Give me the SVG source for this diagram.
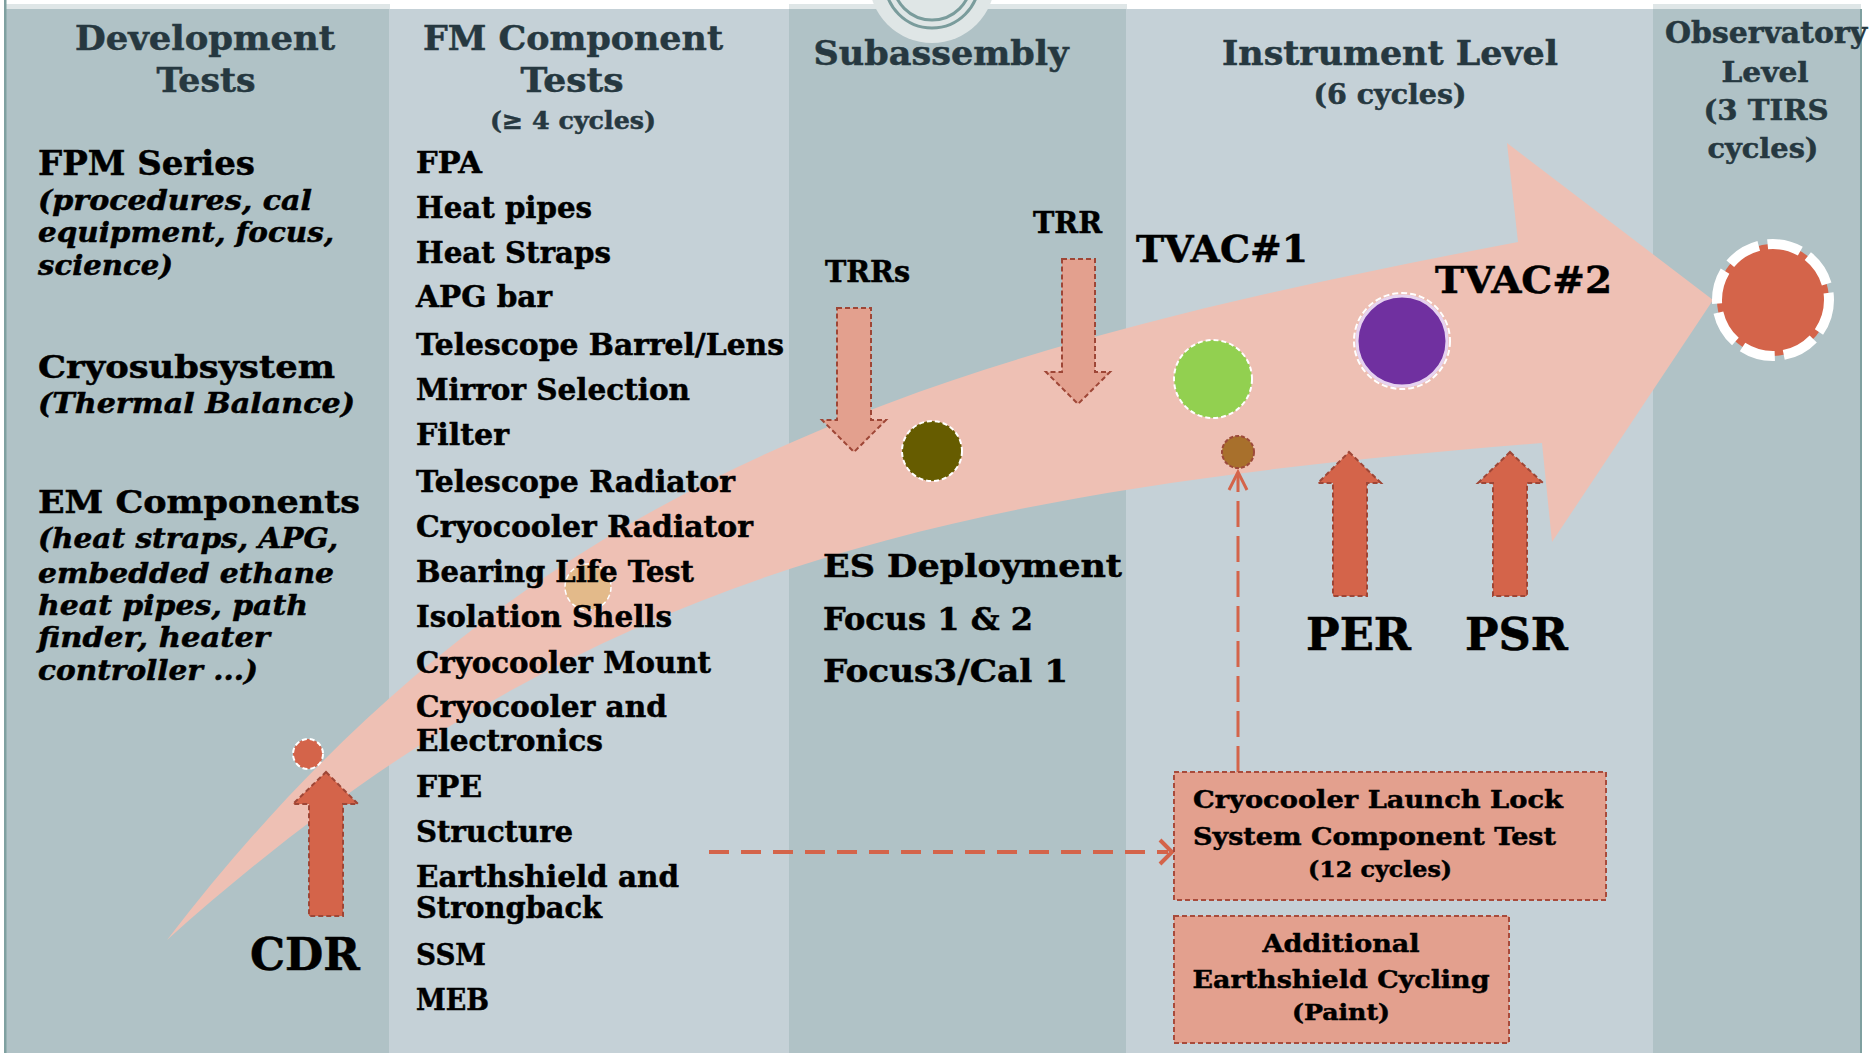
<svg xmlns="http://www.w3.org/2000/svg" width="1869" height="1053" viewBox="0 0 1869 1053">
<style>
.hd{font-family:"DejaVu Serif","Liberation Serif",serif;font-weight:bold;fill:#263840;stroke:#263840;stroke-width:0.5}
.t{font-family:"DejaVu Serif","Liberation Serif",serif;font-weight:bold;fill:#000;stroke:#000;stroke-width:0.5}
.i{font-style:italic}
.darkcol{fill:#b0c2c6}
.lightcol{fill:#c5d1d7}
.arr{stroke:#9e4636;stroke-width:2;stroke-dasharray:5 3}
.box{fill:#e3a08e;stroke:#a84b3b;stroke-width:2;stroke-dasharray:5 3}
.conn{fill:none;stroke:#d4644a}
</style>
<rect width="1869" height="1053" fill="#ffffff"/>
<g id="columns">
<rect x="6" y="4" width="384" height="5" fill="#dfe6e7"/>
<rect x="789" y="4" width="338" height="5" fill="#dfe6e7"/>
<rect x="1653" y="4" width="208" height="5" fill="#dfe6e7"/>
<rect class="darkcol" x="6" y="9" width="384" height="1044"/>
<rect class="lightcol" x="389" y="9" width="401" height="1044"/>
<rect class="darkcol" x="789" y="9" width="338" height="1044"/>
<rect class="lightcol" x="1126" y="9" width="528" height="1044"/>
<rect class="darkcol" x="1653" y="9" width="208" height="1044"/>
<rect x="4" y="0" width="2.5" height="1053" fill="#7fa0a0"/>
<rect x="1860" y="9" width="2" height="1044" fill="#7fa0a0"/>
</g>
<g id="top-decoration">
<circle cx="932" cy="-20" r="63" fill="#dfe6e6"/>
<circle cx="932" cy="-19" r="47" fill="none" stroke="#7a9c9c" stroke-width="3"/>
<circle cx="932" cy="-19" r="39" fill="none" stroke="#7a9c9c" stroke-width="3"/>
</g>
<g id="swoosh">
<path d="M167,940 C520,480 918,356 1518,242 L1507,143 L1713,300 L1552,542 L1542,443 C942,491 580,570 167,940 Z" fill="#eec0b4"/>
</g>
<g id="headers">
<text class="hd" x="205" y="50" font-size="33" text-anchor="middle" textLength="260" lengthAdjust="spacingAndGlyphs">Development</text>
<text class="hd" x="206" y="92" font-size="33" text-anchor="middle" textLength="99" lengthAdjust="spacingAndGlyphs">Tests</text>
<text class="hd" x="573" y="50" font-size="33" text-anchor="middle" textLength="300" lengthAdjust="spacingAndGlyphs">FM Component</text>
<text class="hd" x="572" y="92" font-size="33" text-anchor="middle" textLength="103" lengthAdjust="spacingAndGlyphs">Tests</text>
<text class="hd" x="573" y="129" font-size="25" text-anchor="middle" textLength="166" lengthAdjust="spacingAndGlyphs">(≥ 4 cycles)</text>
<text class="hd" x="941" y="65" font-size="34" text-anchor="middle" textLength="255" lengthAdjust="spacingAndGlyphs">Subassembly</text>
<text class="hd" x="1390" y="65" font-size="34" text-anchor="middle" textLength="336" lengthAdjust="spacingAndGlyphs">Instrument Level</text>
<text class="hd" x="1390" y="104" font-size="27" text-anchor="middle" textLength="153" lengthAdjust="spacingAndGlyphs">(6 cycles)</text>
<text class="hd" x="1766" y="43" font-size="29" text-anchor="middle" textLength="202" lengthAdjust="spacingAndGlyphs">Observatory</text>
<text class="hd" x="1765" y="82" font-size="28" text-anchor="middle" textLength="87" lengthAdjust="spacingAndGlyphs">Level</text>
<text class="hd" x="1766" y="120" font-size="28" text-anchor="middle" textLength="125" lengthAdjust="spacingAndGlyphs">(3 TIRS</text>
<text class="hd" x="1763" y="158" font-size="28" text-anchor="middle" textLength="111" lengthAdjust="spacingAndGlyphs">cycles)</text>
</g>
<g id="dev-tests">
<text class="t" x="38" y="175" font-size="33" textLength="217" lengthAdjust="spacingAndGlyphs">FPM Series</text>
<text class="t i" x="38" y="210" font-size="27" textLength="274" lengthAdjust="spacingAndGlyphs">(procedures, cal</text>
<text class="t i" x="38" y="242" font-size="27" textLength="296" lengthAdjust="spacingAndGlyphs">equipment, focus,</text>
<text class="t i" x="38" y="275" font-size="27" textLength="135" lengthAdjust="spacingAndGlyphs">science)</text>
<text class="t" x="38" y="378" font-size="32" textLength="297" lengthAdjust="spacingAndGlyphs">Cryosubsystem</text>
<text class="t i" x="38" y="413" font-size="28" textLength="317" lengthAdjust="spacingAndGlyphs">(Thermal Balance)</text>
<text class="t" x="38" y="513" font-size="32" textLength="322" lengthAdjust="spacingAndGlyphs">EM Components</text>
<text class="t i" x="38" y="548" font-size="27" textLength="300" lengthAdjust="spacingAndGlyphs">(heat straps, APG,</text>
<text class="t i" x="38" y="583" font-size="27" textLength="296" lengthAdjust="spacingAndGlyphs">embedded ethane</text>
<text class="t i" x="38" y="615" font-size="27" textLength="270" lengthAdjust="spacingAndGlyphs">heat pipes, path</text>
<text class="t i" x="38" y="647" font-size="27" textLength="232" lengthAdjust="spacingAndGlyphs">finder, heater</text>
<text class="t i" x="38" y="680" font-size="27" textLength="220" lengthAdjust="spacingAndGlyphs">controller ...)</text>
</g>
<g id="bearing-dot">
<circle cx="588" cy="587" r="23" fill="#e3ba8a" stroke="#ffffff" stroke-width="1.5" stroke-dasharray="5 3"/>
</g>
<g id="fm-components">
<text class="t" x="416" y="173" font-size="29" textLength="66" lengthAdjust="spacingAndGlyphs">FPA</text>
<text class="t" x="416" y="218" font-size="29" textLength="176" lengthAdjust="spacingAndGlyphs">Heat pipes</text>
<text class="t" x="416" y="263" font-size="29" textLength="195" lengthAdjust="spacingAndGlyphs">Heat Straps</text>
<text class="t" x="416" y="307" font-size="29" textLength="136" lengthAdjust="spacingAndGlyphs">APG bar</text>
<text class="t" x="416" y="355" font-size="29" textLength="368" lengthAdjust="spacingAndGlyphs">Telescope Barrel/Lens</text>
<text class="t" x="416" y="400" font-size="29" textLength="274" lengthAdjust="spacingAndGlyphs">Mirror  Selection</text>
<text class="t" x="416" y="445" font-size="29" textLength="93" lengthAdjust="spacingAndGlyphs">Filter</text>
<text class="t" x="416" y="492" font-size="29" textLength="319" lengthAdjust="spacingAndGlyphs">Telescope Radiator</text>
<text class="t" x="416" y="537" font-size="29" textLength="337" lengthAdjust="spacingAndGlyphs">Cryocooler Radiator</text>
<text class="t" x="416" y="582" font-size="29" textLength="278" lengthAdjust="spacingAndGlyphs">Bearing Life Test</text>
<text class="t" x="416" y="627" font-size="29" textLength="256" lengthAdjust="spacingAndGlyphs">Isolation Shells</text>
<text class="t" x="416" y="673" font-size="29" textLength="295" lengthAdjust="spacingAndGlyphs">Cryocooler Mount</text>
<text class="t" x="416" y="717" font-size="29" textLength="251" lengthAdjust="spacingAndGlyphs">Cryocooler and</text>
<text class="t" x="416" y="751" font-size="29" textLength="187" lengthAdjust="spacingAndGlyphs">Electronics</text>
<text class="t" x="416" y="797" font-size="29" textLength="66" lengthAdjust="spacingAndGlyphs">FPE</text>
<text class="t" x="416" y="842" font-size="29" textLength="157" lengthAdjust="spacingAndGlyphs">Structure</text>
<text class="t" x="416" y="887" font-size="29" textLength="263" lengthAdjust="spacingAndGlyphs">Earthshield and</text>
<text class="t" x="416" y="918" font-size="29" textLength="186" lengthAdjust="spacingAndGlyphs">Strongback</text>
<text class="t" x="416" y="965" font-size="29" textLength="70" lengthAdjust="spacingAndGlyphs">SSM</text>
<text class="t" x="416" y="1010" font-size="29" textLength="73" lengthAdjust="spacingAndGlyphs">MEB</text>
</g>
<g id="connectors">
<line class="conn" x1="709" y1="852" x2="1168" y2="852" stroke-width="4" stroke-dasharray="20 12"/>
<polyline class="conn" points="1160,840 1172,852 1160,864" stroke-width="4"/>
<line class="conn" x1="1238" y1="772" x2="1238" y2="474" stroke-width="3" stroke-dasharray="26 9"/>
<polyline class="conn" points="1229,490 1238,472 1247,490" stroke-width="3"/>
</g>
<g id="cdr">
<circle cx="308" cy="754" r="15" fill="#d4644a" stroke="#ffffff" stroke-width="2" stroke-dasharray="5 3"/>
<path class="arr" d="M326,772 L358,804 L343,804 L343,916 L309,916 L309,804 L293,804 Z" fill="#d4644a"/>
<text class="t" x="305" y="970" font-size="45" text-anchor="middle" textLength="110" lengthAdjust="spacingAndGlyphs">CDR</text>
</g>
<g id="trrs">
<text class="t" x="825" y="282" font-size="29" textLength="85" lengthAdjust="spacingAndGlyphs">TRRs</text>
<path class="arr" d="M837,308 L871,308 L871,420 L886,420 L854,452 L822,420 L837,420 Z" fill="#e3a08e"/>
<circle cx="932" cy="451" r="30" fill="#665c00" stroke="#ffffff" stroke-width="2" stroke-dasharray="5 3"/>
</g>
<g id="trr">
<text class="t" x="1033" y="233" font-size="29" textLength="69" lengthAdjust="spacingAndGlyphs">TRR</text>
<path class="arr" d="M1062,259 L1095,259 L1095,372 L1110,372 L1078,404 L1046,372 L1062,372 Z" fill="#e3a08e"/>
</g>
<g id="es-deployment">
<text class="t" x="823" y="577" font-size="31" textLength="299" lengthAdjust="spacingAndGlyphs">ES Deployment</text>
<text class="t" x="823" y="630" font-size="31" textLength="210" lengthAdjust="spacingAndGlyphs">Focus 1 &amp; 2</text>
<text class="t" x="823" y="682" font-size="31" textLength="245" lengthAdjust="spacingAndGlyphs">Focus3/Cal 1</text>
</g>
<g id="tvac1">
<text class="t" x="1136" y="262" font-size="38" textLength="172" lengthAdjust="spacingAndGlyphs">TVAC#1</text>
<circle cx="1213" cy="379" r="39" fill="#92d050" stroke="#ffffff" stroke-width="2" stroke-dasharray="5 3"/>
</g>
<g id="launch-lock-dot">
<circle cx="1238" cy="452" r="16" fill="#a8702c" stroke="#9c4a3a" stroke-width="2" stroke-dasharray="4 2"/>
</g>
<g id="tvac2">
<text class="t" x="1435" y="293" font-size="38" textLength="177" lengthAdjust="spacingAndGlyphs">TVAC#2</text>
<circle cx="1402" cy="341" r="45" fill="#7030a0" stroke="#e6d2ef" stroke-width="3"/>
<circle cx="1402" cy="341" r="48" fill="none" stroke="#ffffff" stroke-width="2" stroke-dasharray="6 3"/>
</g>
<g id="per">
<path class="arr" d="M1349,452 L1381,483 L1367,483 L1367,596 L1333,596 L1333,483 L1318,483 Z" fill="#d4644a"/>
<text class="t" x="1306" y="650" font-size="45" textLength="105" lengthAdjust="spacingAndGlyphs">PER</text>
</g>
<g id="psr">
<path class="arr" d="M1510,452 L1543,483 L1527,483 L1527,596 L1493,596 L1493,483 L1478,483 Z" fill="#d4644a"/>
<text class="t" x="1465" y="650" font-size="45" textLength="103" lengthAdjust="spacingAndGlyphs">PSR</text>
</g>
<g id="observatory">
<circle cx="1773" cy="300" r="56" fill="#d4644a" stroke="#ffffff" stroke-width="10" stroke-dasharray="34 9"/>
</g>
<g id="launch-lock-box">
<rect class="box" x="1174" y="772" width="432" height="128"/>
<text class="t" x="1193" y="808" font-size="25" textLength="370" lengthAdjust="spacingAndGlyphs">Cryocooler Launch Lock</text>
<text class="t" x="1193" y="845" font-size="25" textLength="363" lengthAdjust="spacingAndGlyphs">System Component Test</text>
<text class="t" x="1380" y="877" font-size="22" text-anchor="middle" textLength="144" lengthAdjust="spacingAndGlyphs">(12 cycles)</text>
</g>
<g id="earthshield-box">
<rect class="box" x="1174" y="916" width="335" height="127"/>
<text class="t" x="1341" y="952" font-size="25" text-anchor="middle" textLength="157" lengthAdjust="spacingAndGlyphs">Additional</text>
<text class="t" x="1341" y="988" font-size="25" text-anchor="middle" textLength="297" lengthAdjust="spacingAndGlyphs">Earthshield Cycling</text>
<text class="t" x="1341" y="1020" font-size="22" text-anchor="middle" textLength="98" lengthAdjust="spacingAndGlyphs">(Paint)</text>
</g>
</svg>
